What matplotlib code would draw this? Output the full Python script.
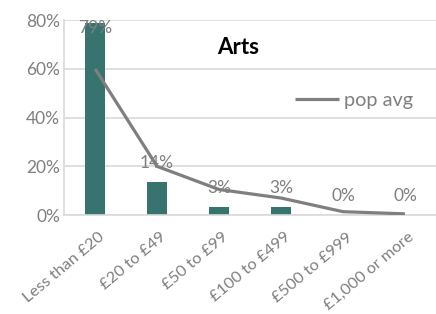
import matplotlib
matplotlib.use("Agg")
import matplotlib.pyplot as plt
import matplotlib.transforms as mtransforms

categories = ["Less than £20", "£20 to £49", "£50 to £99", "£100 to £499", "£500 to £999", "£1,000 or more"]
arts = [0.79, 0.135, 0.033, 0.033, 0.0, 0.0]
pop_avg = [0.60, 0.20, 0.105, 0.07, 0.014, 0.005]
labels = ["79%", "14%", "3%", "3%", "0%", "0%"]
yticks = [0, 0.2, 0.4, 0.6, 0.8]
ytick_labels = ["0%", "20%", "40%", "60%", "80%"]

plt.rcParams['font.family'] = ['Lato', 'DejaVu Sans']
gray = "#7f7f7f"
grid = "#d9d9d9"

fig = plt.figure(figsize=(4.36, 3.14), dpi=100)
ax = fig.add_axes([0.147, 0.315, 0.853, 0.621])
x = list(range(len(categories)))
ax.bar(x, arts, width=0.32, color="#37736f", zorder=2)
ax.plot(x, pop_avg, color=gray, linewidth=2.3, zorder=3, label="pop avg", solid_capstyle='butt')

ax.set_xlim(-0.5, 5.5)
ax.set_ylim(0, 0.8)
ax.set_yticks(yticks)
ax.set_yticklabels(ytick_labels)
ax.yaxis.grid(True, color=grid, linewidth=1.2, zorder=0)
ax.set_axisbelow(True)
for s in ["top", "right"]:
    ax.spines[s].set_visible(False)
ax.spines["left"].set_color(grid)
ax.spines["left"].set_linewidth(1.2)
ax.spines["bottom"].set_color(grid)
ax.spines["bottom"].set_linewidth(1.2)
ax.tick_params(axis='both', length=0, colors=gray, labelsize=12.5)
ax.tick_params(axis='y', pad=3)
ax.set_xticks(x)
ax.set_xticklabels([])

offset = mtransforms.ScaledTranslation(0.03, -0.15, fig.dpi_scale_trans)
xlab_trans = ax.get_xaxis_transform() + offset
for xi, cat in zip(x, categories):
    ax.text(xi, 0, cat, transform=xlab_trans, rotation=40, rotation_mode='anchor',
            ha='right', va='top', color=gray, fontsize=11.8, clip_on=False)

for xi, v, lab in zip(x, arts, labels):
    if v > 0.7:
        ax.text(xi, 0.8, lab, ha='center', va='top', color=gray, fontsize=12.5, zorder=4)
    else:
        ax.annotate(lab, (xi, v), xytext=(0, 14), textcoords='offset points',
                    ha='center', va='center', color=gray, fontsize=12.5, zorder=4)

ax.text(0.468, 0.86, "Arts", transform=ax.transAxes, ha='center', va='center',
        fontsize=16, fontweight='bold', color='black')
ax.legend(loc='center', bbox_to_anchor=(0.78, 0.59), frameon=False, fontsize=14.3,
          handlelength=2.2, handletextpad=0.25, labelcolor=gray)

fig.savefig("out.png", dpi=100)
